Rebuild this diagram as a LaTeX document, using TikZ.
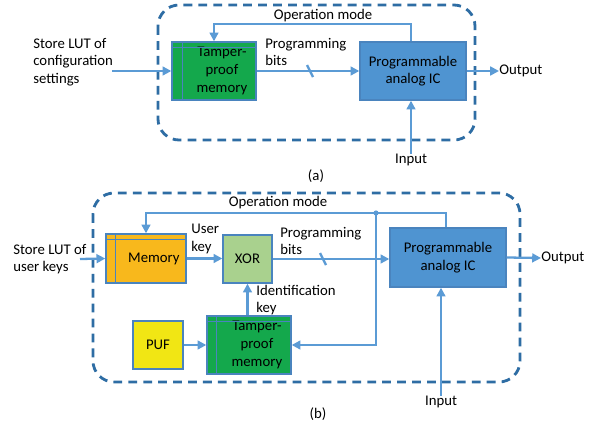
\documentclass[tikz,border=0pt]{standalone}
\usepackage{fontspec}
\setmainfont{Carlito}
\usetikzlibrary{arrows.meta}
\definecolor{wire}{HTML}{5B9BD5}
\definecolor{frame}{HTML}{2E6DA4}
\definecolor{edge}{HTML}{4A84BE}
\definecolor{icblue}{HTML}{4F94D1}
\definecolor{tpgreen}{HTML}{14A84C}
\definecolor{memorange}{HTML}{F8B81C}
\definecolor{xorgreen}{HTML}{A9D18E}
\definecolor{pufyellow}{HTML}{F1E614}
\tikzset{
  block/.style={draw=edge, line width=0.8pt, minimum width=#1, inner sep=1pt, align=center},
  flow/.style={wire, line width=1.3pt, -{Triangle[length=5pt,width=5pt]}},
  wireline/.style={wire, line width=1.3pt},
  chip/.style={draw=frame, line width=1.6pt, dash pattern=on 5pt off 3.5pt, rounded corners=12pt},
  txt/.style={inner sep=0pt, align=left, font=\fontsize{8.4}{10}\selectfont},
}

\begin{document}
\begin{tikzpicture}[x=0.02cm, y=-0.02cm, every node/.style={font=\fontsize{8.4}{10}\selectfont}]
        \useasboundingbox[fill=white] (0,0) rectangle (592,423);
        % (a) configuration stored in tamper-proof memory
        \draw[chip] (158,5) rectangle (475,140);
        \node[block=1.68cm, minimum height=1.16cm, fill=tpgreen] (tpa) at (214,71) {\hspace{9pt}Tamper-\\\hspace{9pt}proof\\\hspace{9pt}memory};
        \node[block=2.12cm, minimum height=1.16cm, fill=icblue] (ica) at (413,71) {Programmable\\analog IC};
        \draw[edge, line width=0.6pt] ([xshift=0.22cm]tpa.north west) -- ([xshift=0.22cm]tpa.south west);
        \draw[edge, line width=0.6pt] ([yshift=-0.12cm]tpa.north west) -- ([yshift=-0.12cm]tpa.north east);
        \node[txt, anchor=west] (luta) at (33,62) {Store LUT of\\configuration\\settings};
        \node[txt, anchor=west] (proga) at (265,52) {Programming\\bits};
        \node[txt] (opa) at (323,16) {Operation mode};
        \node[txt, anchor=west] (outa) at (499,71) {Output};
        \node[txt] (ina) at (411,160) {Input};
        \node[txt] (capa) at (316,176) {(a)};
        \coordinate (luta-end) at (112,71);
        \coordinate (opa-top) at (411,24);
        \draw[flow] (luta-end) -- (tpa.west);
        \draw[flow] (tpa.east) -- (ica.west);
        \draw[wireline] (307,65) -- (313,77);
        \draw[flow] (ica.north -| opa-top) -- (opa-top) -| (tpa.north);
        \draw[flow] (ica.east) -- (outa.west);
        \draw[flow] (ina.north) -- (ica.south -| ina.north);

        % (b) user keys combined with the PUF identification key
        \draw[chip] (93,193) rectangle (520,382);
        \node[block=1.6cm, minimum height=0.98cm, fill=memorange] (mem) at (146,258.5) {\hspace{9pt}Memory};
        \node[block=0.98cm, minimum height=0.96cm, fill=xorgreen] (xor) at (247.5,259) {XOR};
        \node[block=1.0cm, minimum height=0.96cm, fill=pufyellow] (puf) at (158,345) {PUF};
        \node[block=1.68cm, minimum height=1.16cm, fill=tpgreen] (tpb) at (249,345) {\hspace{9pt}Tamper-\\\hspace{9pt}proof\\\hspace{9pt}memory};
        \node[block=2.32cm, minimum height=1.18cm, fill=icblue] (icb) at (448,257.5) {Programmable\\analog IC};
        \draw[edge, line width=0.6pt] ([xshift=0.2cm]mem.north west) -- ([xshift=0.2cm]mem.south west);
        \draw[edge, line width=0.6pt] ([yshift=-0.12cm]mem.north west) -- ([yshift=-0.12cm]mem.north east);
        \draw[edge, line width=0.6pt] ([xshift=0.2cm]tpb.north west) -- ([xshift=0.2cm]tpb.south west);
        \draw[edge, line width=0.6pt] ([yshift=-0.12cm]tpb.north west) -- ([yshift=-0.12cm]tpb.north east);
        \node[txt, anchor=west] (lutb) at (13,259) {Store LUT of\\user keys};
        \node[txt, anchor=west] (ukey) at (191,239) {User\\key};
        \node[txt, anchor=west] (progb) at (280,241) {Programming\\bits};
        \node[txt, anchor=west] (idkey) at (256,300) {Identification\\key};
        \node[txt] (opb) at (278,203) {Operation mode};
        \node[txt, anchor=west] (outb) at (541,258) {Output};
        \node[txt] (inb) at (441,402) {Input};
        \node[txt] (capb) at (318,414) {(b)};
        \coordinate (lutb-end) at (80,259);
        \coordinate (opb-top) at (446,213);
        \coordinate (tap) at (376,213);
        \draw[flow] (lutb-end) -- (mem.west);
        \draw[flow] (mem.east) -- (xor.west |- mem.east);
        \draw[flow] (xor.east) -- (icb.west |- xor.east);
        \draw[wireline] (320,253) -- (326,265);
        \draw[flow] (puf.east) -- (tpb.west);
        \draw[flow] (tpb.north -| xor.south) -- (xor.south);
        \draw[flow] (icb.north -| opb-top) -- (opb-top) -| (mem.north);
        \draw[flow] (tap) |- (tpb.east);
        \fill[wire] (tap) circle (2.6);
        \draw[flow] (icb.east) -- (outb.west);
        \draw[flow] (inb.north) -- (icb.south -| inb.north);
\end{tikzpicture}
\end{document}
